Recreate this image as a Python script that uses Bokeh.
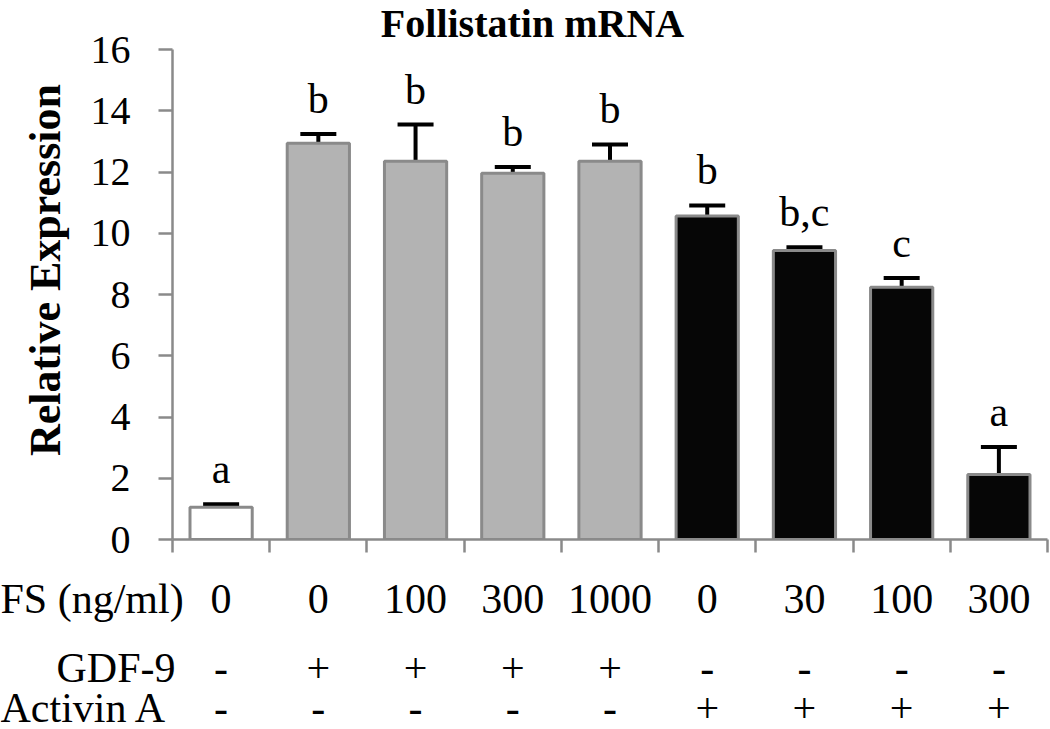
from bokeh.plotting import figure
from bokeh.layouts import column
from bokeh.models import (ColumnDataSource, Range1d, FixedTicker, LabelSet, Label,
                          Whisker, TeeHead)
from bokeh.core.properties import value
from bokeh.embed import file_html
from bokeh.resources import INLINE

# ---- data ----
title = "Follistatin mRNA"
row_headers = ["FS (ng/ml)", "GDF-9", "Activin A"]
fs_labels = ["0", "0", "100", "300", "1000", "0", "30", "100", "300"]
gdf9 = ["-", "+", "+", "+", "+", "-", "-", "-", "-"]
activin = ["-", "-", "-", "-", "-", "+", "+", "+", "+"]
values = [1.05, 12.94, 12.35, 11.96, 12.35, 10.56, 9.44, 8.24, 2.12]
errors = [0.1, 0.3, 1.2, 0.2, 0.55, 0.35, 0.1, 0.3, 0.9]
letters = ["a", "b", "b", "b", "b", "b", "b,c", "c", "a"]
groups = ["control", "gdf", "gdf", "gdf", "gdf", "act", "act", "act", "act"]
y_ticks = [0, 2, 4, 6, 8, 10, 12, 14, 16]

# ---- styles / layout ----
fill_map = {"control": "#ffffff", "gdf": "#b3b3b3", "act": "#060606"}
SERIF = "Liberation Serif"
AXIS_COLOR = "#8a8a8a"
W = 1050
LEFT = 172            # frame left (px)
RIGHT = 3
TOP = 49              # space above the value 16 (px)
PLOT_H = 490          # px for 0..16
BOTTOM = 26
H1 = TOP + PLOT_H + BOTTOM
H2 = 729 - H1
YMAX = 16

n = len(values)
xs = [i + 0.5 for i in range(n)]
tops = [v + e for v, e in zip(values, errors)]
px_per_unit_y = PLOT_H / YMAX
px_per_unit_x = (W - LEFT - RIGHT) / n

src = ColumnDataSource(dict(
    x=xs, value=values, top=tops, letter=letters,
    fill=[fill_map[g] for g in groups],
))

p = figure(width=W, height=H1, output_backend="svg", toolbar_location=None,
           x_range=Range1d(0, n), y_range=Range1d(0, YMAX + TOP / px_per_unit_y),
           min_border_left=LEFT, min_border_right=RIGHT, min_border_top=0,
           min_border_bottom=BOTTOM)
p.frame_align = False
p.outline_line_color = None
p.xgrid.visible = False
p.ygrid.visible = False

p.vbar(x="x", top="value", width=0.64, bottom=0, source=src,
       fill_color="fill", line_color=AXIS_COLOR, line_width=3)

wh = Whisker(base="x", lower="value", upper="top", source=src, dimension="height",
             line_color="black", line_width=4,
             upper_head=TeeHead(size=36, line_color="black", line_width=4),
             lower_head=None)
p.add_layout(wh)

p.add_layout(LabelSet(x="x", y="top", text="letter", source=src, y_offset=21,
                      text_align="center", text_baseline="alphabetic",
                      text_font=SERIF, text_font_size="42px", text_color="black"))

# title inside the (extended) frame
title_x = (532 - LEFT) / px_per_unit_x
title_y = YMAX + (TOP - 22.5) / px_per_unit_y
p.add_layout(Label(x=title_x, y=title_y, text=title, text_align="center",
                   text_baseline="middle", text_font=SERIF,
                   text_font_style="bold", text_font_size="40px", text_color="black"))

# y axis
yax = p.yaxis[0]
yax.bounds = (0, YMAX)
yax.ticker = FixedTicker(ticks=y_ticks)
yax.axis_line_color = AXIS_COLOR
yax.axis_line_width = 2.5
yax.major_tick_line_color = AXIS_COLOR
yax.major_tick_line_width = 2.5
yax.major_tick_out = 14
yax.major_tick_in = 0
yax.minor_tick_line_color = None
yax.major_label_text_font = SERIF
yax.major_label_text_font_size = "40px"
yax.major_label_text_color = "black"
yax.major_label_standoff = 28
yax.axis_label = "Relative Expression"
yax.axis_label_text_font = SERIF
yax.axis_label_text_font_style = "bold"
yax.axis_label_text_font_size = "44px"
yax.axis_label_text_color = "black"
yax.axis_label_standoff = 18

# x axis: ticks at category boundaries only
xax = p.xaxis[0]
xax.ticker = FixedTicker(ticks=list(range(n + 1)))
xax.major_label_overrides = {i: "" for i in range(n + 1)}
xax.major_label_text_font_size = "0px"
xax.major_label_standoff = 0
xax.axis_line_color = AXIS_COLOR
xax.axis_line_width = 2.5
xax.major_tick_line_color = AXIS_COLOR
xax.major_tick_line_width = 2.5
xax.major_tick_out = 13
xax.major_tick_in = 0
xax.minor_tick_line_color = None

# ---- condition table below, aligned with the same category scale ----
row_y = [33, 102, 142]   # row centres, px from the top of the table area
p2 = figure(width=W, height=H2, output_backend="svg", toolbar_location=None,
            x_range=Range1d(-LEFT / px_per_unit_x, n + RIGHT / px_per_unit_x),
            y_range=Range1d(H2, 0),
            min_border_left=0, min_border_right=0, min_border_top=0,
            min_border_bottom=0, x_axis_type=None, y_axis_type=None)
p2.frame_align = False
p2.outline_line_color = None
p2.xgrid.visible = False
p2.ygrid.visible = False

tsrc = ColumnDataSource(dict(x=xs, fs=fs_labels, gdf=gdf9, act=activin))
for col, yy in zip(("fs", "gdf", "act"), row_y):
    p2.text(x="x", y=yy, text=col, source=tsrc, text_align="center",
            text_baseline="middle", text_font=value(SERIF), text_font_size="42px",
            text_color="black")

hdr_x = [-LEFT / px_per_unit_x, 3 / px_per_unit_x, -LEFT / px_per_unit_x]
hdr_align = ["left", "right", "left"]
for txt, hx, al, yy in zip(row_headers, hdr_x, hdr_align, row_y):
    p2.add_layout(Label(x=hx, y=yy, text=txt, text_align=al, text_baseline="middle",
                        text_font=SERIF, text_font_size="42px", text_color="black"))

layout = column(p, p2, spacing=0)
open("out.html", "w").write(file_html(layout, INLINE))
